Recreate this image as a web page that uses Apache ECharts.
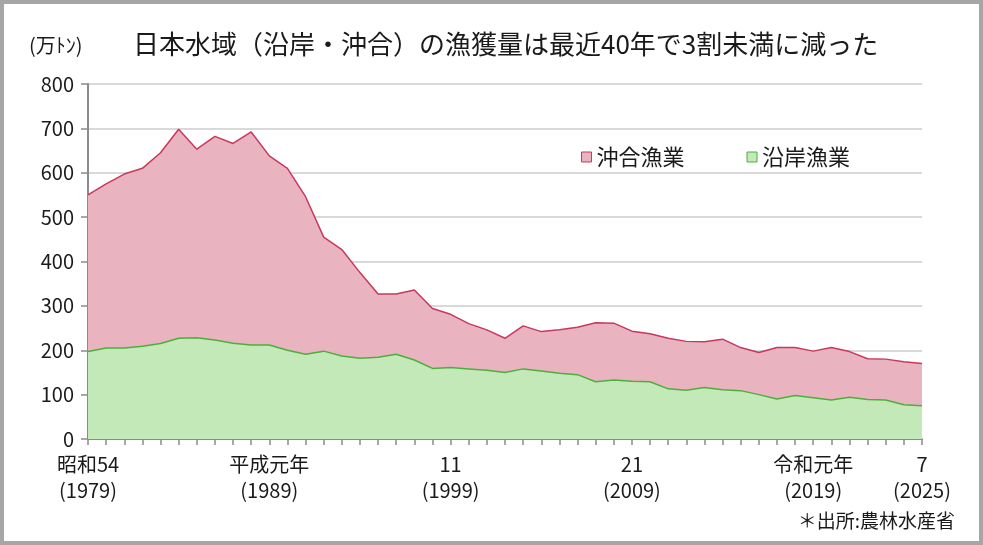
<!DOCTYPE html>
<html>
<head>
<meta charset="utf-8">
<script src="https://cdn.jsdelivr.net/npm/echarts@6/dist/echarts.min.js"></script>
<style>
  html, body { margin: 0; padding: 0; background: #fff; }
  #chart { width: 983px; height: 545px; }
</style>
</head>
<body>
<div id="chart"></div>
<script>
// 年 (西暦)
const years = [
  1979, 1980, 1981, 1982, 1983, 1984, 1985, 1986, 1987, 1988,
  1989, 1990, 1991, 1992, 1993, 1994, 1995, 1996, 1997, 1998,
  1999, 2000, 2001, 2002, 2003, 2004, 2005, 2006, 2007, 2008,
  2009, 2010, 2011, 2012, 2013, 2014, 2015, 2016, 2017, 2018,
  2019, 2020, 2021, 2022, 2023, 2024, 2025
]
// 沿岸漁業 (万トン)
const coastal = [
  197, 205, 205, 209, 215, 227, 228, 223, 216, 212,
  212, 200, 191, 198, 187, 182, 184, 191, 178, 159,
  161, 158, 155, 150, 158, 153, 148, 145, 129, 133,
  130, 129, 113, 110, 116, 111, 109, 100, 90, 98,
  93, 88, 94, 89, 88, 77, 75
]
// 沖合漁業 (万トン)
const offshore = [
  353, 370, 392, 401, 430, 471, 425, 459, 450, 480,
  426, 410, 355, 257, 240, 193, 143, 136, 158, 135,
  120, 102, 91, 77, 97, 89, 98, 107, 133, 128,
  113, 108, 114, 110, 103, 114, 97, 95, 116, 108,
  105, 118, 103, 92, 92, 97, 95
]
// x軸ラベル
const labelYears = [1979, 1989, 1999, 2009, 2019, 2025]
const eraLabels = ['昭和54', '平成元年', '11', '21', '令和元年', '7']

const FONT = '"Noto Sans CJK JP", "Noto Sans", sans-serif'
const TEXT = '#1a1a1a'

const chart = echarts.init(document.getElementById('chart'))

const option = {
  animation: false,
  backgroundColor: '#fff',
  textStyle: { fontFamily: FONT },
  title: {
    text: '日本水域（沿岸・沖合）の漁獲量は最近40年で3割未満に減った',
    left: 128,
    top: 26,
    textStyle: { fontFamily: FONT, fontSize: 26, fontWeight: 'normal', color: TEXT },
  },
  graphic: [
    {
      type: 'rect',
      shape: { x: 2, y: 2, width: 979, height: 541 },
      style: { fill: 'none', stroke: '#a6a6a6', lineWidth: 4 },
      silent: true,
    },
    {
      type: 'text',
      left: 29,
      top: 35,
      style: { text: '(万ﾄﾝ)', font: '20px ' + FONT, fill: TEXT },
    },
    {
      type: 'text',
      right: 28,
      top: 511,
      style: { text: '＊出所:農林水産省', font: '19px ' + FONT, fill: TEXT },
    },
  ],
  legend: {
    left: 576,
    top: 141,
    icon: 'rect',
    itemWidth: 10,
    itemHeight: 10,
    itemGap: 62,
    textStyle: { fontFamily: FONT, fontSize: 22, color: TEXT },
    data: [
      { name: '沖合漁業', itemStyle: { color: '#eab3c0', borderColor: '#c8385f', borderWidth: 1 } },
      { name: '沿岸漁業', itemStyle: { color: '#c3e9b8', borderColor: '#4caf3c', borderWidth: 1 } },
    ],
  },
  grid: {
    left: 88,
    right: 61,
    top: 84,
    bottom: 106,
  },
  xAxis: {
    type: 'category',
    boundaryGap: false,
    data: years.map(String),
    axisLine: { lineStyle: { color: '#8c8c8c', width: 2 } },
    axisTick: { show: true, interval: 0, length: 6, lineStyle: { color: '#8c8c8c', width: 1.5 } },
    axisLabel: {
      interval: function (index, value) {
        return labelYears.indexOf(Number(value)) >= 0
      },
      formatter: function (value) {
        let i = labelYears.indexOf(Number(value))
        return eraLabels[i] + '\n(' + value + ')'
      },
      margin: 12,
      fontFamily: FONT,
      fontSize: 20,
      lineHeight: 26,
      color: TEXT,
    },
    splitLine: { show: false },
  },
  yAxis: {
    type: 'value',
    min: 0,
    max: 800,
    interval: 100,
    axisLine: { show: true, lineStyle: { color: '#8c8c8c', width: 2 } },
    axisTick: { show: true, length: 7, lineStyle: { color: '#8c8c8c', width: 1.5 } },
    axisLabel: { fontFamily: FONT, fontSize: 20, color: TEXT, margin: 14 },
    splitLine: { show: true, lineStyle: { color: '#d9d9d9', width: 2 } },
  },
  series: [
    {
      name: '沿岸漁業',
      type: 'line',
      stack: 'total',
      symbol: 'none',
      data: coastal,
      lineStyle: { color: '#4caf3c', width: 1.5 },
      itemStyle: { color: '#4caf3c' },
      areaStyle: { color: '#c3e9b8', opacity: 1 },
      z: 3,
    },
    {
      name: '沖合漁業',
      type: 'line',
      stack: 'total',
      symbol: 'none',
      data: offshore,
      lineStyle: { color: '#c8385f', width: 1.5 },
      itemStyle: { color: '#c8385f' },
      areaStyle: { color: '#eab3c0', opacity: 1 },
      z: 2,
    },
  ],
}

chart.setOption(option)
</script>
</body>
</html>
